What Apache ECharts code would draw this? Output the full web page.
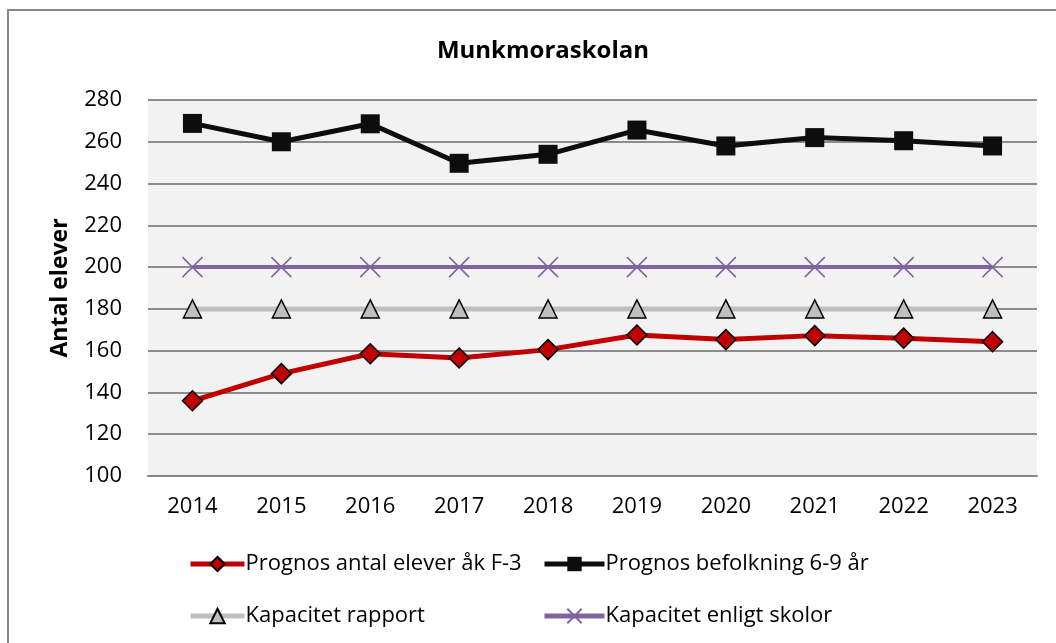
<!DOCTYPE html>
<html>
<head>
<meta charset="utf-8">
<script src="https://cdn.jsdelivr.net/npm/echarts@6/dist/echarts.min.js"></script>
<style>
  html, body { margin: 0; padding: 0; background: #fff; }
  #main { width: 1056px; height: 643px; }
</style>
</head>
<body>
<div id="main"></div>
<script>
const years = ['2014', '2015', '2016', '2017', '2018', '2019', '2020', '2021', '2022', '2023'];
const elever = [136, 149, 158.5, 156.5, 160.5, 167.5, 165.3, 167.2, 166, 164.3];
const befolkning = [268.8, 260, 268.6, 249.7, 254, 265.6, 258, 262, 260.5, 258];
const kapRapport = [180, 180, 180, 180, 180, 180, 180, 180, 180, 180];
const kapSkolor = [200, 200, 200, 200, 200, 200, 200, 200, 200, 200];

const font = 'Open Sans';
const chart = echarts.init(document.getElementById('main'));

const legendText = { fontFamily: font, fontSize: 22, color: '#000', padding: [0, 0, 0, -4] };

chart.setOption({
  animation: false,
  textStyle: { fontFamily: font, color: '#000' },
  graphic: [{
    type: 'rect',
    shape: { x: 8, y: 10, width: 1080, height: 660 },
    style: { fill: 'none', stroke: '#868686', lineWidth: 2 },
    silent: true
  }],
  title: {
    text: 'Munkmoraskolan',
    left: 538,
    textAlign: 'center',
    top: 34,
    textStyle: { fontFamily: font, fontSize: 24, fontWeight: 'bold', color: '#000' }
  },
  legend: [{
    orient: 'vertical',
    left: 188,
    top: 553,
    padding: 0,
    itemGap: 30,
    itemWidth: 54,
    itemHeight: 18,
    lineStyle: { width: 5 },
    textStyle: legendText,
    data: ['Prognos antal elever åk F-3', 'Kapacitet rapport']
  }, {
    orient: 'vertical',
    left: 542,
    top: 553,
    padding: 0,
    itemGap: 30,
    itemWidth: 60,
    itemHeight: 18,
    lineStyle: { width: 5 },
    textStyle: legendText,
    data: ['Prognos befolkning 6-9 år', 'Kapacitet enligt skolor']
  }],
  grid: {
    left: 148,
    right: 19,
    top: 100,
    bottom: 167,
    show: true,
    backgroundColor: '#f2f2f2',
    borderWidth: 0
  },
  xAxis: {
    type: 'category',
    data: years,
    boundaryGap: true,
    axisLine: { lineStyle: { color: '#868686', width: 2 } },
    axisTick: { show: false },
    axisLabel: { fontFamily: font, fontSize: 22, color: '#000', margin: 20 }
  },
  yAxis: {
    type: 'value',
    min: 100,
    max: 280,
    interval: 20,
    name: 'Antal elever',
    nameLocation: 'middle',
    nameGap: 76,
    nameTextStyle: { fontFamily: font, fontSize: 23, fontWeight: 'bold', color: '#000' },
    axisLine: { show: false },
    axisTick: { show: false },
    axisLabel: { fontFamily: font, fontSize: 22, color: '#000', margin: 26 },
    splitLine: { lineStyle: { color: '#8c8c8c', width: 2 } }
  },
  series: [
    {
      name: 'Kapacitet rapport',
      type: 'line',
      data: kapRapport,
      symbol: 'triangle',
      symbolSize: 18,
      lineStyle: { color: '#bfbfbf', width: 5 },
      itemStyle: { color: '#bfbfbf', borderColor: '#000', borderWidth: 1.5 }
    },
    {
      name: 'Kapacitet enligt skolor',
      type: 'line',
      data: kapSkolor,
      symbol: 'path://M0,0L10,10M10,0L0,10',
      symbolSize: 20,
      lineStyle: { color: '#8064a2', width: 4 },
      itemStyle: { color: '#8064a2', borderColor: '#8064a2', borderWidth: 1.5 }
    },
    {
      name: 'Prognos antal elever åk F-3',
      type: 'line',
      data: elever,
      symbol: 'diamond',
      symbolSize: 20,
      lineStyle: { color: '#c00000', width: 5 },
      itemStyle: { color: '#c00000', borderColor: '#000', borderWidth: 1.5 }
    },
    {
      name: 'Prognos befolkning 6-9 år',
      type: 'line',
      data: befolkning,
      symbol: 'rect',
      symbolSize: 19,
      lineStyle: { color: '#0d0d0d', width: 5 },
      itemStyle: { color: '#0d0d0d', borderColor: '#0d0d0d', borderWidth: 0 }
    }
  ]
});
</script>
</body>
</html>
